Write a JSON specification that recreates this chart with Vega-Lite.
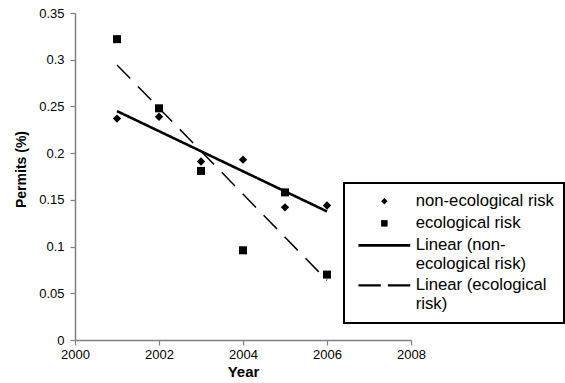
{
  "$schema": "https://vega.github.io/schema/vega-lite/v6.json",
  "width": 336,
  "height": 327,
  "autosize": {"type": "none"},
  "padding": {"left": 75, "top": 13, "right": 154, "bottom": 43},
  "background": "white",
  "config": {
    "view": {"stroke": null},
    "font": "Liberation Sans",
    "legend": {"strokeWidth": 2},
    "axis": {
      "domainColor": "#808080",
      "domainWidth": 1.5,
      "tickColor": "#808080",
      "tickWidth": 1.2,
      "tickSize": 5,
      "grid": false,
      "labelColor": "black",
      "labelFont": "Liberation Sans",
      "labelFontSize": 13,
      "titleFont": "Liberation Sans",
      "titleFontWeight": "bold",
      "titleColor": "black"
    }
  },
  "datasets": {
    "pts": [
      {"year": 2001, "value": 0.237, "series": "non-ecological risk"},
      {"year": 2002, "value": 0.239, "series": "non-ecological risk"},
      {"year": 2003, "value": 0.191, "series": "non-ecological risk"},
      {"year": 2004, "value": 0.193, "series": "non-ecological risk"},
      {"year": 2005, "value": 0.142, "series": "non-ecological risk"},
      {"year": 2006, "value": 0.144, "series": "non-ecological risk"},
      {"year": 2001, "value": 0.322, "series": "ecological risk"},
      {"year": 2002, "value": 0.248, "series": "ecological risk"},
      {"year": 2003, "value": 0.181, "series": "ecological risk"},
      {"year": 2004, "value": 0.096, "series": "ecological risk"},
      {"year": 2005, "value": 0.158, "series": "ecological risk"},
      {"year": 2006, "value": 0.070, "series": "ecological risk"}
    ],
    "trend": [
      {"year": 2001, "value": 0.245, "series": "Linear (non-ecological risk)"},
      {"year": 2006, "value": 0.1376, "series": "Linear (non-ecological risk)"},
      {"year": 2001, "value": 0.2944, "series": "Linear (ecological risk)"},
      {"year": 2006, "value": 0.0639, "series": "Linear (ecological risk)"}
    ]
  },
  "encoding": {
    "x": {
      "field": "year",
      "type": "quantitative",
      "scale": {"domain": [2000, 2008], "nice": false, "zero": false},
      "axis": {"values": [2000, 2002, 2004, 2006, 2008], "format": "d", "title": "Year", "titleFontSize": 15, "labelPadding": 3, "titlePadding": 3, "labelFlush": false}
    },
    "y": {
      "field": "value",
      "type": "quantitative",
      "scale": {"domain": [0, 0.35], "nice": false},
      "axis": {"values": [0, 0.05, 0.1, 0.15, 0.2, 0.25, 0.3, 0.35], "labelExpr": "'' + round(datum.value * 100) / 100", "title": "Permits (%)", "titleFontSize": 14, "titleY": 156, "labelPadding": 6, "titlePadding": 10}
    }
  },
  "layer": [
    {
      "data": {"name": "trend"},
      "mark": {"type": "line", "color": "black"},
      "encoding": {
        "detail": {"field": "series"},
        "strokeDash": {
          "field": "series",
          "type": "nominal",
          "scale": {"domain": ["Linear (non-ecological risk)", "Linear (ecological risk)"], "range": [[1, 0], [19, 11]]},
          "legend": null
        },
        "strokeWidth": {
          "field": "series",
          "type": "nominal",
          "scale": {"domain": ["Linear (non-ecological risk)", "Linear (ecological risk)"], "range": [2.6, 1.5]},
          "legend": null
        }
      }
    },
    {
      "data": {"name": "pts"},
      "mark": {"type": "point", "filled": true, "color": "black", "opacity": 1},
      "encoding": {
        "shape": {
          "field": "series",
          "type": "nominal",
          "scale": {
            "domain": ["non-ecological risk", "ecological risk", "Linear (non-ecological risk)", "Linear (ecological risk)"],
            "range": ["diamond", "square", "M-8,-0.4H8V0.4H-8Z", "M-8,-0.33H-1.1V0.33H-8Z M1.1,-0.33H8V0.33H1.1Z"]
          },
          "legend": {
            "title": null,
            "orient": "none",
            "legendX": 269,
            "legendY": 170,
            "padding": 10,
            "strokeColor": "black",
            "fillColor": "white",
            "symbolSize": 42,
            "symbolOffset": 22,
            "symbolOpacity": 1,
            "labelFont": "Liberation Sans",
            "labelFontSize": 16.7,
            "labelColor": "black",
            "labelOffset": 23,
            "labelLimit": 300,
            "rowPadding": 4,
            "labelExpr": "datum.value == 'Linear (non-ecological risk)' ? ['Linear (non-', 'ecological risk)'] : datum.value == 'Linear (ecological risk)' ? ['Linear (ecological', 'risk)'] : datum.value"
          }
        },
        "size": {
          "field": "series",
          "type": "nominal",
          "scale": {"domain": ["non-ecological risk", "ecological risk"], "range": [70, 64]},
          "legend": null
        }
      }
    }
  ]
}
